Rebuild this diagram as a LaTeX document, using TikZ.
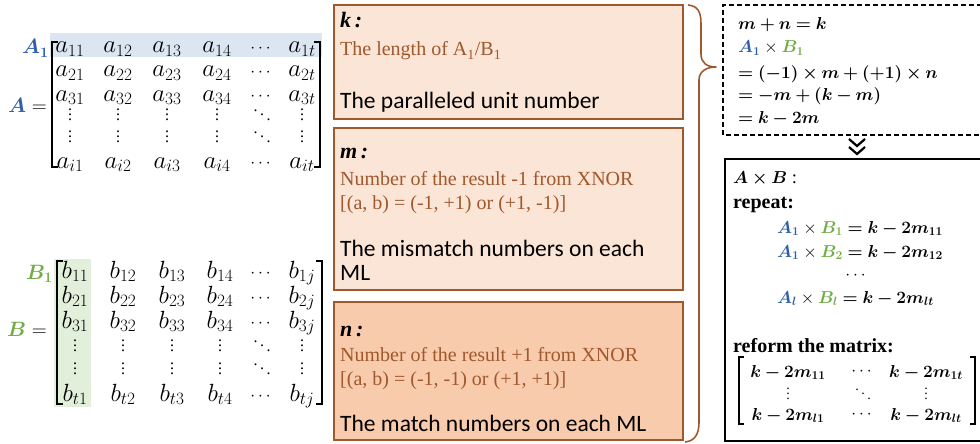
\documentclass[tikz,border=0pt]{standalone}
\usepackage{amsmath}
\usepackage{bm}
\usepackage{fontspec}
\setmainfont{Liberation Serif}
\newfontfamily\sansf{Carlito}
\newcommand\vdts{\vbox{\baselineskip5pt\lineskiplimit0pt\hbox{.}\hbox{.}\hbox{.}}}
\newcommand\ddts{\mbox{\raisebox{9pt}{.}\kern2.5pt\raisebox{4.5pt}{.}\kern2.5pt\raisebox{0pt}{.}}}
\definecolor{ablue}{HTML}{2F5FA8}
\definecolor{bgreen}{HTML}{70AD47}
\definecolor{hlblue}{HTML}{DCE6F2}
\definecolor{hlgreen}{HTML}{E2EFDA}
\definecolor{boxbrown}{HTML}{9E5A2E}
\definecolor{txtbrown}{HTML}{A0582C}
\definecolor{peach}{HTML}{FBE5D6}
\definecolor{peachd}{HTML}{F8CBAD}
\begin{document}
\begin{tikzpicture}[x=1pt,y=-1pt,
  ent/.style={inner sep=0pt,anchor=base,font=\fontsize{24}{24}\selectfont},
  dots/.style={inner sep=0pt,anchor=center,font=\fontsize{19}{19}\selectfont},
  vdt/.style={inner sep=0pt,anchor=center,font=\fontsize{16}{16}\selectfont},
  brk/.style={line width=1.4pt},
  infobox/.style={draw=boxbrown,line width=1.2pt},
  head/.style={inner sep=0pt,anchor=base west,font=\fontsize{22}{22}\selectfont\bfseries\itshape},
  brown/.style={inner sep=0pt,anchor=base west,text=txtbrown,font=\fontsize{20}{20}\selectfont},
  blk/.style={inner sep=0pt,anchor=base west,font=\fontsize{23.5}{23.5}\selectfont\sansf},
  rmath/.style={inner sep=0pt,anchor=base west,font=\fontsize{18.5}{18.5}\selectfont},
  rtext/.style={inner sep=0pt,anchor=base west,font=\fontsize{20}{20}\selectfont\bfseries},
  rent/.style={inner sep=0pt,anchor=base,font=\fontsize{18.5}{18.5}\selectfont},
  rdot/.style={inner sep=0pt,anchor=center,font=\fontsize{16}{16}\selectfont},
  rvd/.style={inner sep=0pt,anchor=center,font=\fontsize{14}{14}\selectfont},
  lab/.style={inner sep=0pt,anchor=base east,font=\fontsize{22}{22}\selectfont}]
\useasboundingbox (0,0) rectangle (980,444);
\clip (0,0) rectangle (980,444);

% ---------- Matrix A ----------
\fill[hlblue] (50,33) rectangle (322,57);
\node[lab] (A1lab) at (49,54) {$\textcolor{ablue}{\bm{A_1}}$};
\node[lab] (Aeq) at (47,112) {$\textcolor{ablue}{\bm{A}}=$};
\draw[brk] (58,42) -- (52,42) -- (52,167) -- (58,167);
\draw[brk] (314,42) -- (320,42) -- (320,167) -- (314,167);
\foreach \x/\c [count=\k] in {70/1,118/2,167/3,217/4,302/t} {
  \node[ent] (a1\k) at (\x,53) {$a_{1\c}$};
  \node[ent] (a2\k) at (\x,77) {$a_{2\c}$};
  \node[ent] (a3\k) at (\x,101) {$a_{3\c}$};
  \node[vdt] (a4\k) at (\x,115) {\vdts};
  \node[vdt] (a5\k) at (\x,137) {\vdts};
  \node[ent] (a6\k) at (\x,168) {$a_{i\c}$};
}
\foreach \r/\y in {1/49,2/73,3/97,6/164} \node[dots] (a\r h) at (262,\y) {$\cdots$};
\node[vdt] (a4h) at (262,115) {\ddts};
\node[vdt] (a5h) at (262,137) {\ddts};

% ---------- Matrix B ----------
\fill[hlgreen] (54,259) rectangle (91,407);
\node[lab] (B1lab) at (53,279) {$\textcolor{bgreen}{\bm{B_1}}$};
\node[lab] (Beq) at (47,336) {$\textcolor{bgreen}{\bm{B}}=$};
\draw[brk] (63,261) -- (57,261) -- (57,404) -- (63,404);
\draw[brk] (316,261) -- (322,261) -- (322,404) -- (316,404);
\foreach \x/\c [count=\k] in {75/1,123/2,172/3,220/4,302/j} {
  \node[ent] (b1\k) at (\x,278) {$b_{1\c}$};
  \node[ent] (b2\k) at (\x,303) {$b_{2\c}$};
  \node[ent] (b3\k) at (\x,328) {$b_{3\c}$};
  \node[vdt] (b4\k) at (\x,346) {\vdts};
  \node[vdt] (b5\k) at (\x,369) {\vdts};
  \node[ent] (b6\k) at (\x,401) {$b_{t\c}$};
}
\foreach \r/\y in {1/274,2/299,3/324,6/397} \node[dots] (b\r h) at (262,\y) {$\cdots$};
\node[vdt] (b4h) at (262,346) {\ddts};
\node[vdt] (b5h) at (262,369) {\ddts};

% ---------- Middle boxes ----------
\filldraw[infobox,fill=peach] (334,5) rectangle (683,119);
\filldraw[infobox,fill=peach] (334,128) rectangle (683,290);
\filldraw[infobox,fill=peachd] (334,302) rectangle (683,440);

\node[head] (kh) at (340,28) {k\,:};
\node[brown] (kt) at (340,56) {The length of A\textsubscript{1}/B\textsubscript{1}};
\node[blk] (kb) at (340,108) {The paralleled unit number};

\node[head] (mh) at (340,158) {m\,:};
\node[brown] (mt1) at (340,185) {Number of the result -1 from XNOR};
\node[brown] (mt2) at (340,209) {[(a, b) = (-1, +1) or (+1, -1)]};
\node[blk] (mb1) at (340,256) {The mismatch numbers on each};
\node[blk] (mb2) at (340,280) {ML};

\node[head] (nh) at (340,336) {n\,:};
\node[brown] (nt1) at (340,361) {Number of the result +1 from XNOR};
\node[brown] (nt2) at (340,385) {[(a, b) = (-1, -1) or (+1, +1)]};
\node[blk] (nb) at (340,431) {The match numbers on each ML};

% brace
\draw[boxbrown,line width=1.6pt,line join=round]
  (688,5) .. controls (698,6) and (701,12) .. (701,24)
  -- (701,54) .. controls (701,63) and (707,67) .. (716,67)
  .. controls (707,67) and (699,71) .. (699,80)
  -- (699,422) .. controls (699,434) and (695,441) .. (685,442);

% ---------- Dashed box ----------
\draw[line width=1.4pt,dash pattern=on 5pt off 3pt] (990,5) -- (723,5) -- (723,135) -- (990,135);
\node[rmath] (d1) at (738,30) {$\bm{m+n=k}$};
\node[rmath] (d2) at (738,53) {$\textcolor{ablue}{\bm{A_1}}\times\textcolor{bgreen}{\bm{B_1}}$};
\node[rmath] (d3) at (738,78) {$\bm{=(-1)\times m+(+1)\times n}$};
\node[rmath] (d4) at (738,100) {$\bm{=-m+(k-m)}$};
\node[rmath] (d5) at (738,123) {$\bm{=k-2m}$};

% double chevron
\draw[line width=2.2pt] (849,139) -- (857,146) -- (865,139);
\draw[line width=2.2pt] (849,147) -- (857,154) -- (865,147);

% ---------- Solid box ----------
\draw[line width=1.4pt] (990,159) -- (725,159) -- (725,441) -- (990,441);
\node[rmath] (s1) at (733,183) {$\bm{A\times B}$ :};
\node[rtext] (s2) at (733,208) {repeat:};
\node[rmath] (s3) at (777,233) {$\textcolor{ablue}{\bm{A_1}}\times\textcolor{bgreen}{\bm{B_1}}\bm{=k-2m_{11}}$};
\node[rmath] (s4) at (777,257) {$\textcolor{ablue}{\bm{A_1}}\times\textcolor{bgreen}{\bm{B_2}}\bm{=k-2m_{12}}$};
\node[rdot] (s5) at (857,276) {$\cdots$};
\node[rmath] (s6) at (777,303) {$\textcolor{ablue}{\bm{A_l}}\times\textcolor{bgreen}{\bm{B_l}}\bm{=k-2m_{lt}}$};
\node[rtext] (s7) at (733,352) {reform the matrix:};
\draw[line width=1.1pt] (744,357) -- (739,357) -- (739,424) -- (744,424);
\draw[line width=1.1pt] (970,357) -- (975,357) -- (975,424) -- (970,424);
\node[rent] (r11) at (788,377) {$\bm{k-2m_{11}}$};
\node[rdot] (r12) at (863,372) {$\cdots$};
\node[rent] (r13) at (926,377) {$\bm{k-2m_{1t}}$};
\node[rvd] (r21) at (788,394) {\vdts};
\node[rvd] (r22) at (863,394) {\ddts};
\node[rvd] (r23) at (926,394) {\vdts};
\node[rent] (r31) at (788,420) {$\bm{k-2m_{l1}}$};
\node[rdot] (r32) at (863,415) {$\cdots$};
\node[rent] (r33) at (926,420) {$\bm{k-2m_{lt}}$};
\end{tikzpicture}
\end{document}
